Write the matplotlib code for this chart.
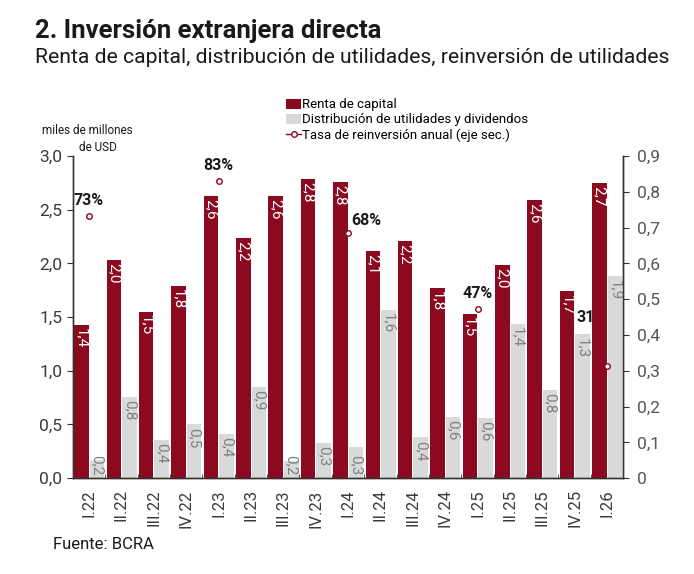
import numpy as np
import matplotlib.pyplot as plt

plt.rcParams['font.family'] = ['Roboto', 'DejaVu Sans']

categories = ['I.22', 'II.22', 'III.22', 'IV.22', 'I.23', 'II.23', 'III.23', 'IV.23',
              'I.24', 'II.24', 'III.24', 'IV.24', 'I.25', 'II.25', 'III.25', 'IV.25', 'I.26']
renta = [1.43, 2.03, 1.55, 1.79, 2.63, 2.24, 2.63, 2.79, 2.76, 2.12, 2.21, 1.77, 1.53, 1.99, 2.59, 1.74, 2.75]
renta_lbl = ['1,4', '2,0', '1,5', '1,8', '2,6', '2,2', '2,6', '2,8', '2,8', '2,1', '2,2', '1,8', '1,5', '2,0', '2,6', '1,7', '2,7']
distrib = [0.17, 0.76, 0.36, 0.50, 0.41, 0.85, 0.16, 0.33, 0.29, 1.57, 0.38, 0.57, 0.56, 1.44, 0.82, 1.34, 1.88]
distrib_lbl = ['0,2', '0,8', '0,4', '0,5', '0,4', '0,9', '0,2', '0,3', '0,3', '1,6', '0,4', '0,6', '0,6', '1,4', '0,8', '1,3', '1,9']
tasa_idx = [0, 4, 8, 12, 16]
tasa = [0.733, 0.83, 0.685, 0.472, 0.314]
tasa_lbl = ['73%', '83%', '68%', '47%', '31%']
tasa_off = [(0, 11), (0, 11), (2, 9), (0, 11), (-11, 35)]

RED = '#8c0a1f'
GREY = '#d9d9d9'
TXT = '#3a3a3a'

x = np.arange(len(categories))
tasa_full = np.full(len(categories), np.nan)
tasa_full[tasa_idx] = tasa

fig = plt.figure(figsize=(6.94, 5.74), dpi=100)
ax = fig.add_axes([0.105, 0.167, 0.793, 0.561])
ax2 = ax.twinx()

b1 = ax.bar(x - 0.235, renta, width=0.45, color=RED, zorder=2, label='Renta de capital')
b2 = ax.bar(x + 0.245, distrib, width=0.45, color=GREY, zorder=2,
            label='Distribución de utilidades y dividendos')

for i in range(len(categories)):
    ax.text(x[i] - 0.235, renta[i] - 0.03, renta_lbl[i], rotation=270, ha='center', va='top',
            color='white', fontsize=11, zorder=3)
    ax.text(x[i] + 0.245, distrib[i] - 0.03 if distrib[i] > 0.3 else 0.22, distrib_lbl[i],
            rotation=270, ha='center', va='top', color='#808080', fontsize=11, zorder=3)

ln, = ax2.plot(x, tasa_full, color=RED, marker='o', markersize=4, markerfacecolor='white',
               markeredgewidth=1, lw=1, label='Tasa de reinversión anual (eje sec.)')

for k in range(len(tasa)):
    ha = 'left' if tasa_off[k][0] > 0 else 'center'
    ax.annotate(tasa_lbl[k], xy=(tasa_idx[k], tasa[k]), xycoords=ax2.transData,
                xytext=tasa_off[k], textcoords='offset points', ha=ha, va='center',
                fontsize=11.5, fontweight='bold', color='#1a1a1a', zorder=1)

ax.set_xlim(-0.5, len(categories) - 0.5)
ax.set_ylim(0, 3.0)
ax2.set_ylim(0, 0.9)
ax.set_yticks(np.arange(0, 3.01, 0.5))
ax.set_yticklabels([f'{v:.1f}'.replace('.', ',') for v in np.arange(0, 3.01, 0.5)])
ax2.set_yticks(np.arange(0, 0.91, 0.1))
ax2.set_yticklabels(['0'] + [f'{v:.1f}'.replace('.', ',') for v in np.arange(0.1, 0.91, 0.1)])

ax.set_xticks(x)
ax.set_xticklabels(categories, rotation=90)
ax.set_xticks(x[:-1] + 0.5, minor=True)
ax.tick_params(axis='x', which='major', length=0, pad=8, labelsize=12, labelcolor=TXT)
ax.tick_params(axis='x', which='minor', direction='in', length=3, color='#333333')
ax.tick_params(axis='y', length=4, labelsize=12.5, labelcolor=TXT, color='#333333')
ax2.tick_params(axis='y', length=4, labelsize=12.5, labelcolor='#555555', color='#333333', pad=6)

for a in (ax, ax2):
    a.spines['top'].set_visible(False)
    for s in ('left', 'right', 'bottom'):
        a.spines[s].set_color('#333333')
        a.spines[s].set_linewidth(1)

fig.legend(handles=[b1, b2, ln], loc='upper left', bbox_to_anchor=(0.405, 0.838),
           frameon=False, fontsize=9.5, handlelength=1.1, handleheight=0.8,
           handletextpad=0.1, labelspacing=0.15, borderaxespad=0)

fig.text(0.05, 0.946, '2. Inversión extranjera directa', fontsize=18.5, fontweight='bold',
         color='#1a1a1a', va='center')
fig.text(0.05, 0.899, 'Renta de capital, distribución de utilidades, reinversión de utilidades',
         fontsize=15.2, color='#1a1a1a', va='center')
fig.text(0.126, 0.772, 'miles de millones', fontsize=8.5, color='#1a1a1a', ha='center', va='center')
fig.text(0.114, 0.743, 'de USD', fontsize=8.5, color='#1a1a1a', ha='left', va='center')
fig.text(0.076, 0.052, 'Fuente: BCRA', fontsize=12, color='#1a1a1a', va='center')

fig.savefig('out.png', dpi=100)
